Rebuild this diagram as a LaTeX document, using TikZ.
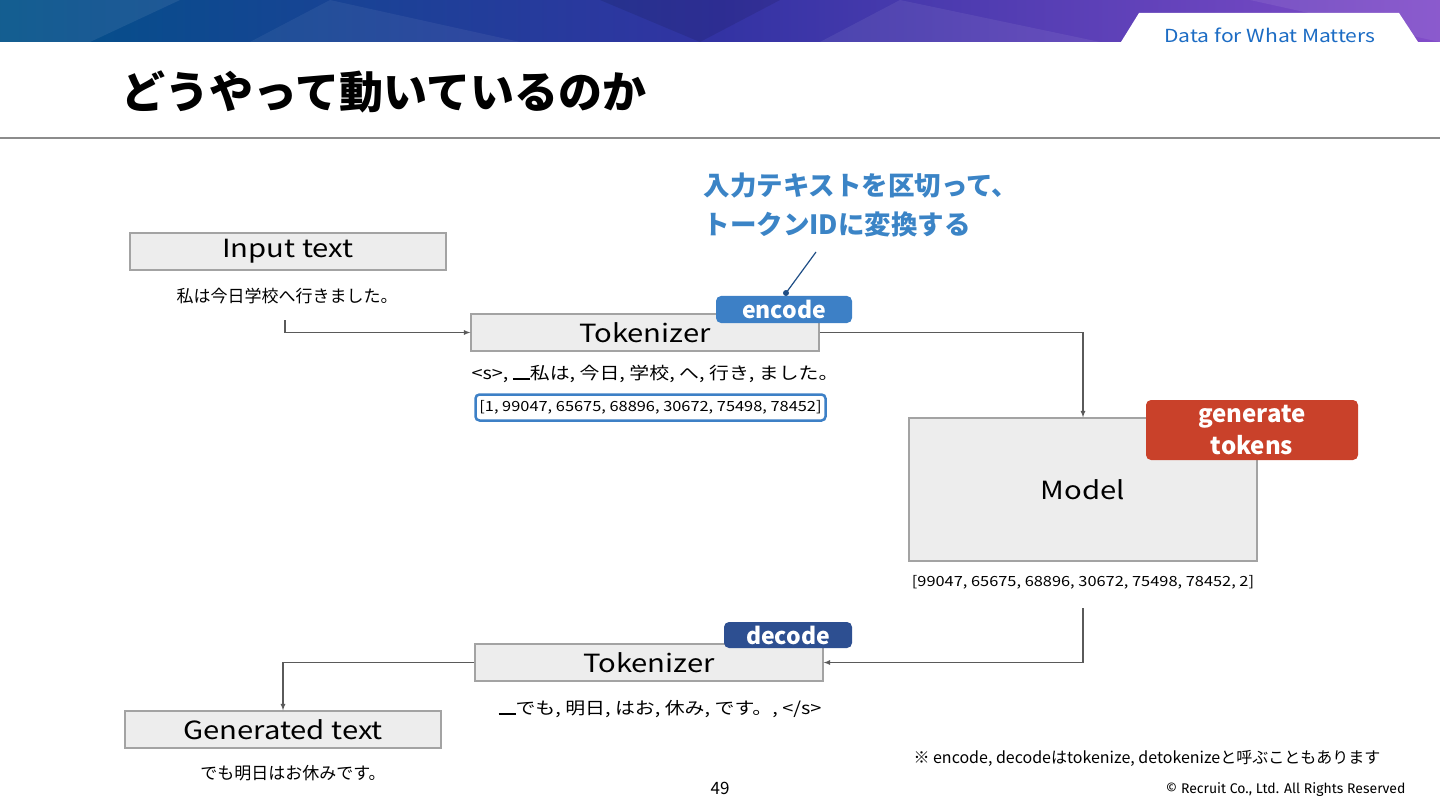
\documentclass[tikz,border=0pt]{standalone}
\usepackage{fontspec}
\setmainfont{Noto Sans CJK JP}
\newfontfamily\widefont{Noto Sans CJK JP}[FakeStretch=1.17]
\newfontfamily\copyfont{Fira Sans}
\usetikzlibrary{positioning}

\definecolor{boxgray}{HTML}{EDEDED}
\definecolor{boxline}{HTML}{A3A3A3}
\definecolor{conngray}{HTML}{5A5A5A}
\definecolor{encblue}{HTML}{3D80C6}
\definecolor{decblue}{HTML}{2D4F91}
\definecolor{genred}{HTML}{C9412A}
\definecolor{callblue}{HTML}{3B84C6}
\definecolor{tagline}{HTML}{1F4E86}
\definecolor{brandblue}{HTML}{1C6CC4}

\newcommand{\fs}[1]{\fontsize{#1}{#1}\selectfont}
\newcommand{\ubar}{\rule[-0.5pt]{17pt}{2.4pt}}

\begin{document}
\begin{tikzpicture}[x=1pt,y=-1pt,
  gbox/.style={draw=boxline,line width=1.3pt,fill=boxgray,inner sep=0pt,font=\widefont\fs{25}},
  conn/.style={>=latex,->,draw=conngray,line width=1.2pt},
  tag/.style={rounded corners=5pt,text=white,font=\fs{23}\bfseries,inner sep=0pt,align=center},
  small/.style={font=\fs{17}}]
\useasboundingbox (0,0) rectangle (1440,810);

% banner
\shade[left color=teal!75!blue!85!black,right color=violet!60!blue!70,middle color=blue!55!black!80] (0,0) rectangle (1440,42);
\fill[white,opacity=0.08] (0,0) -- (180,0) -- (90,42) -- (0,42) -- cycle;
\fill[white,opacity=0.06] (330,0) -- (520,42) -- (250,42) -- cycle;
\fill[black,opacity=0.10] (600,0) -- (780,0) -- (700,42) -- cycle;
\fill[white,opacity=0.07] (900,0) -- (1100,42) -- (820,42) -- cycle;
\fill[white,opacity=0.08] (1250,0) -- (1440,0) -- (1440,42) -- cycle;
\fill[white] (1121,42) -- (1139,13) -- (1399,13) -- (1418,42) -- cycle;
\node[text=brandblue,font=\widefont\fs{18}] (brand) at (1270,35) {Data for What Matters};

% title
\node[anchor=west,font=\fs{44}\bfseries] (title) at (118,92) {どうやって動いているのか};
\draw[black!45,line width=1.5pt] (0,138) -- (1440,138);

% encode side
\node[gbox,minimum width=316pt,minimum height=37pt] (input) at (288,251.5) {Input text};
\node[small] (intext) at (287,296) {私は今日学校へ行きました。};
\node[gbox,minimum width=348pt,minimum height=37pt] (tok1) at (645,332.5) {Tokenizer};
\node[tag,fill=encblue,minimum width=136pt,minimum height=27pt] (enc) at (784,309.5) {encode};
\node[small,font=\widefont\fs{17}] (toks1) at (655,374) {<s>, \ubar 私は, 今日, 学校, へ, 行き, ました。};
\node[draw=encblue,line width=2.5pt,rounded corners=4pt,minimum width=350pt,minimum height=26pt,inner sep=0pt,font=\widefont\fs{14}] (ids1) at (650.5,407.5) {[1, 99047, 65675, 68896, 30672, 75498, 78452]};

\node[anchor=north west,align=left,text=callblue,font=\fs{26.5}\bfseries] (call) at (700,169) {入力テキストを区切って、\\[13pt]トークンIDに変換する};
\coordinate (ca) at (816,252);
\coordinate (cb) at (786,293);
\draw[tagline,line width=1.2pt] (ca) -- (cb);
\fill[tagline] (cb) circle (3);

% model
\node[gbox,minimum width=348pt,minimum height=143pt] (model) at (1083,489.5) {Model};
\node[tag,fill=genred,minimum width=212pt,minimum height=60pt,font=\fs{24}\bfseries] (gen) at (1252,430) {generate\\[7pt]tokens};
\node[font=\widefont\fs{14}] (ids2) at (1083,582) {[99047, 65675, 68896, 30672, 75498, 78452, 2]};

% decode side
\node[gbox,minimum width=348pt,minimum height=37pt] (tok2) at (649,662.5) {Tokenizer};
\node[tag,fill=decblue,minimum width=128pt,minimum height=26pt] (dec) at (788,635) {decode};
\node[small,font=\widefont\fs{17}] (toks2) at (660,709) {\ubar でも, 明日, はお, 休み, です。, </s>};
\node[gbox,minimum width=316pt,minimum height=37pt] (output) at (283,729.5) {Generated text};
\node[small] (outtext) at (293,773) {でも明日はお休みです。};

% connectors
\coordinate (in1) at (285,320);
\draw[conn] (in1) |- (tok1.west);
\draw[conn] (tok1.east) -| (model.north);
\coordinate (out1) at (1083,608);
\draw[conn] (out1) |- (tok2.east);
\draw[conn] (tok2.west) -| (output.north);

% footer
\node[anchor=west,font=\fs{16}] (note) at (910,758) {※ encode, decodeはtokenize, detokenizeと呼ぶこともあります};
\node[font=\fs{17}] (page) at (720,788) {49};
\node[anchor=east,font=\copyfont\fs{14}] (copy) at (1409,790) {© Recruit Co., Ltd. All Rights Reserved};
\end{tikzpicture}
\end{document}
